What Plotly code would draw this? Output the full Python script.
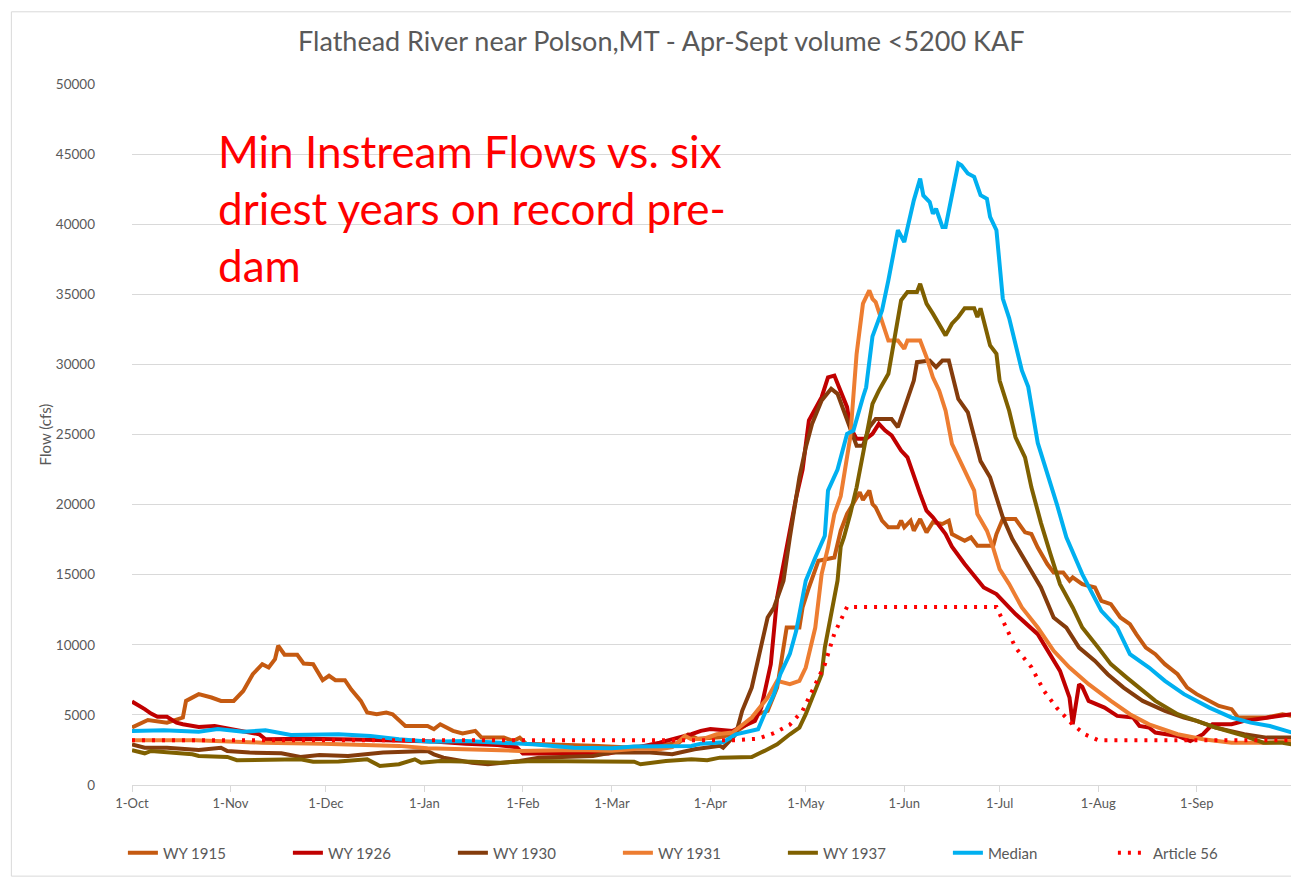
import pandas as pd
import plotly.graph_objects as go

# water year axis: day 0 = 1-Oct
base = pd.Timestamp("2018-10-01")

title = "Flathead River near Polson,MT - Apr-Sept volume <5200 KAF"
note = "Min Instream Flows vs. six<br>driest years on record pre-<br>dam"

# values (day of water year, cfs)
wy1915_days = [0, 5, 11, 16, 17, 21, 25, 28, 32, 35, 38, 41, 43, 45, 46, 48, 52, 54, 57, 60, 62, 64, 67, 69,
               72, 74, 77, 80, 82, 86, 93, 95, 97, 101, 104, 108, 110, 117, 120, 122, 124, 135, 145, 155,
               165, 172, 175, 178, 185, 189, 195, 197, 200, 203, 205, 206, 210, 211, 213, 216, 221, 223,
               225, 228, 229, 230, 232, 233, 234, 236, 238, 241, 242, 243, 245, 246, 248, 250, 252, 255,
               257, 258, 262, 264, 266, 271, 272, 274, 278, 281, 283, 285, 288, 290, 293, 295, 296, 299,
               303, 305, 308, 311, 314, 316, 319, 322, 325, 329, 332, 335, 339, 342, 346, 348, 357, 362, 365]
wy1915 = [4100, 4640, 4450, 4810, 6000, 6480, 6240, 6000, 6000, 6710, 7900, 8620, 8380, 8980, 9930, 9290,
          9290, 8670, 8620, 7480, 7790, 7480, 7480, 6800, 6000, 5170, 5050, 5170, 5050, 4210, 4210, 3980,
          4330, 3860, 3680, 3860, 3380, 3380, 3140, 3380, 2950, 2900, 2800, 2700, 2800, 3000, 3600, 3300,
          3400, 3620, 4570, 5050, 5290, 6950, 9800, 11230, 11230, 12660, 14090, 16000, 16230, 18140,
          19330, 20520, 20880, 20330, 21000, 20040, 19800, 18850, 18380, 18380, 18850, 18380, 18850,
          18140, 18970, 18020, 18740, 18620, 18850, 17900, 17420, 17660, 17070, 17070, 17900, 18970,
          18970, 18020, 17900, 16940, 15760, 15160, 15160, 14570, 14810, 14330, 14090, 13140, 12900,
          11950, 11470, 10760, 9800, 9330, 8620, 7900, 6950, 6480, 6000, 5640, 5410, 4810, 4810, 5050, 4930]

wy1926_days = [0, 2, 4, 6, 8, 11, 14, 16, 21, 26, 32, 40, 42, 55, 70, 85, 95, 105, 115, 121, 123, 150, 158,
               166, 176, 179, 182, 189, 196, 198, 201, 203, 205, 207, 209, 211, 213, 217, 219, 221, 223,
               225, 226, 228, 231, 233, 235, 237, 239, 242, 244, 246, 248, 250, 252, 256, 258, 262, 268,
               272, 278, 285, 289, 292, 295, 296, 298, 299, 301, 306, 310, 315, 317, 320, 322, 329, 333,
               337, 340, 346, 350, 357, 365]
wy1926 = [5950, 5710, 5410, 5090, 4860, 4860, 4450, 4330, 4140, 4210, 3980, 3620, 3260, 3300, 3250, 3200,
          3100, 2950, 2850, 2700, 2250, 2250, 2660, 3020, 3620, 3860, 4000, 3860, 4570, 5520, 8620, 13380,
          15760, 18140, 20520, 22500, 26000, 27660, 29080, 29200, 28140, 26950, 25520, 24690, 24690,
          25040, 25760, 25280, 24930, 23850, 23370, 21950, 20760, 19570, 19090, 17900, 17000, 15760,
          14090, 13620, 12190, 10760, 9330, 8140, 6230, 4330, 7190, 7000, 6000, 5520, 4930, 4810, 4210,
          4100, 3740, 3500, 3140, 3620, 4330, 4330, 4570, 4810, 5050]

wy1930_days = [0, 4, 11, 21, 28, 30, 37, 47, 53, 59, 68, 79, 93, 95, 98, 107, 112, 116, 122, 128, 137, 145,
               151, 163, 170, 177, 185, 186, 190, 192, 195, 198, 200, 202, 205, 207, 209, 210, 212, 214,
               217, 220, 222, 224, 226, 228, 230, 232, 234, 239, 241, 242, 244, 246, 247, 251, 253, 255,
               257, 258, 260, 263, 265, 267, 270, 272, 274, 277, 282, 286, 290, 294, 298, 303, 307, 312,
               318, 325, 331, 335, 341, 350, 357, 365]
wy1930 = [2900, 2660, 2660, 2500, 2660, 2430, 2310, 2260, 2000, 2140, 2070, 2310, 2430, 2190, 1950, 1590,
          1480, 1590, 1710, 1950, 2000, 2070, 2310, 2310, 2190, 2550, 2790, 2660, 3620, 5290, 6950, 9810,
          11950, 12660, 14570, 17660, 20520, 21950, 24080, 25760, 27420, 28260, 27900, 26700, 25520,
          24200, 24200, 25520, 26110, 26110, 25520, 26230, 27660, 28850, 30160, 30270, 29800, 30270,
          30270, 29330, 27540, 26580, 24800, 23100, 21950, 20400, 19090, 17540, 15640, 14090, 11950,
          11230, 9800, 8850, 7900, 6950, 6000, 5290, 4810, 4570, 4090, 3620, 3380, 3380]

wy1931_days = [0, 20, 41, 60, 84, 93, 116, 122, 140, 151, 160, 166, 170, 174, 176, 180, 184, 189, 195, 200,
               203, 205, 207, 210, 212, 215, 217, 219, 221, 223, 226, 228, 230, 232, 233, 234, 236, 238,
               241, 243, 244, 248, 250, 252, 254, 256, 258, 260, 263, 265, 266, 269, 271, 273, 276, 280,
               285, 290, 295, 301, 308, 314, 320, 329, 337, 346, 357, 365]
wy1931 = [3190, 3200, 3020, 2950, 2790, 2620, 2480, 2430, 2500, 2450, 2600, 2550, 2700, 3500, 3260, 3300,
          3620, 3740, 4810, 6230, 7430, 7310, 7190, 7430, 8380, 11230, 15040, 16940, 19330, 20600, 24800,
          30750, 34330, 35280, 34680, 34450, 33130, 31700, 31700, 31110, 31700, 31700, 30510, 29080,
          28130, 26700, 24330, 23370, 21950, 21000, 19330, 18140, 16900, 15400, 14330, 12660, 11230,
          9570, 8380, 7190, 6000, 5050, 4330, 3620, 3260, 3020, 3020, 3140]

wy1937_days = [0, 4, 6, 14, 19, 21, 30, 33, 42, 53, 57, 65, 74, 78, 84, 89, 91, 97, 107, 116, 126, 141, 158,
               160, 168, 176, 181, 185, 195, 199, 203, 207, 210, 212, 214, 217, 218, 220, 222, 223, 224,
               226, 228, 231, 233, 235, 238, 240, 242, 244, 247, 248, 250, 252, 254, 256, 258, 260, 262,
               265, 266, 267, 270, 272, 273, 276, 278, 281, 283, 286, 289, 292, 296, 299, 304, 308, 313,
               318, 322, 329, 335, 341, 350, 356, 362, 365]
wy1937 = [2480, 2260, 2430, 2310, 2190, 2070, 2000, 1770, 1770, 1830, 1660, 1670, 1830, 1360, 1480, 1830,
          1590, 1710, 1660, 1590, 1710, 1660, 1660, 1480, 1710, 1830, 1770, 1950, 2000, 2430, 2900, 3620,
          4090, 5050, 6230, 7900, 9800, 12190, 14570, 17000, 17660, 19330, 21230, 24800, 27180, 28130,
          29330, 31950, 34570, 35160, 35160, 35750, 34330, 33620, 32900, 32070, 32900, 33380, 34000,
          34000, 33380, 34000, 31350, 30750, 28850, 26700, 24800, 23370, 21230, 18700, 16470, 14330,
          12660, 11230, 9800, 8620, 7660, 6710, 6000, 5050, 4570, 4100, 3500, 3020, 3020, 2900]

median_days = [0, 10, 21, 27, 35, 42, 50, 65, 75, 84, 94, 105, 116, 126, 139, 151, 158, 168, 176, 179, 186,
               190, 197, 199, 202, 204, 207, 209, 212, 215, 218, 219, 222, 225, 227, 230, 231, 233, 236,
               238, 241, 243, 245, 246, 248, 249, 251, 252, 253, 255, 256, 260, 261, 263, 265, 267, 269,
               270, 272, 274, 276, 280, 282, 285, 291, 294, 299, 305, 310, 314, 320, 325, 331, 339, 346,
               352, 358, 365]
median = [3860, 3900, 3800, 4000, 3800, 3900, 3570, 3620, 3500, 3260, 3090, 3140, 3020, 2900, 2660, 2620,
          2740, 2780, 2790, 2950, 3050, 3620, 3980, 5050, 6480, 7900, 9350, 11000, 14570, 16230, 17780,
          21000, 22500, 25050, 25280, 27660, 28370, 32000, 33850, 36000, 39570, 38730, 40750, 41700,
          43250, 42050, 41580, 40750, 41100, 39800, 39800, 44330, 44200, 43620, 43380, 42070, 41820,
          40520, 39570, 34700, 33300, 29570, 28400, 24400, 20040, 17660, 15040, 12420, 11230, 9330,
          8380, 7430, 6480, 5520, 4810, 4450, 4210, 3740]

art56_days = [0, 190, 197, 202, 207, 211, 214, 218, 221, 225, 272, 275, 278, 283, 287, 291, 296, 300, 304, 365]
art56 = [3200, 3200, 3300, 3700, 4300, 5300, 6700, 8600, 10800, 12700, 12700, 11200, 9800, 8400, 6700,
         5500, 4300, 3600, 3200, 3200]

series = [
    ("WY 1915", wy1915_days, wy1915, "#C55A11", "solid"),
    ("WY 1926", wy1926_days, wy1926, "#C00000", "solid"),
    ("WY 1930", wy1930_days, wy1930, "#843C0C", "solid"),
    ("WY 1931", wy1931_days, wy1931, "#ED7D31", "solid"),
    ("WY 1937", wy1937_days, wy1937, "#7F6000", "solid"),
    ("Median", median_days, median, "#00B0F0", "solid"),
    ("Article 56", art56_days, art56, "#FF0000", "3px,7px"),
]

font = "Lato, 'Open Sans', sans-serif"
grey = "#595959"

fig = go.Figure()
for name, days, vals, color, dash in series:
    x = base + pd.to_timedelta(days, unit="D")
    fig.add_trace(go.Scatter(x=x, y=vals, name=name, mode="lines",
                             line=dict(color=color, width=4, dash=dash)))

month_starts = pd.date_range(base, periods=13, freq="MS")
tick_text = [d.strftime("1-%b") for d in month_starts[:-1]] + [""]

# the page adds an 8px body margin, so the figure is 8px smaller than the window
fig.update_layout(
    width=1291, height=869,
    paper_bgcolor="white", plot_bgcolor="white",
    margin=dict(l=124, r=7, t=76, b=92, autoexpand=False),
    font=dict(family=font, color=grey, size=14),
    title=dict(text=title, x=0.506, xanchor="center", y=0.961, yanchor="middle",
               font=dict(size=27, color=grey)),
    legend=dict(orientation="h", x=0.49, xanchor="center", y=-0.097, yanchor="middle",
                font=dict(size=15, color=grey), entrywidth=120, entrywidthmode="pixels"),
    showlegend=True,
)

fig.update_xaxes(range=[base, month_starts[-1]], tickvals=month_starts, ticktext=tick_text,
                 showgrid=False, showline=True, linecolor="#D9D9D9", linewidth=1,
                 ticks="outside", ticklen=6, tickcolor="#D9D9D9", tickfont=dict(size=13, color=grey))
fig.update_yaxes(range=[0, 50000], dtick=5000, tickformat="d", showgrid=True, gridcolor="#D9D9D9",
                 gridwidth=1, zeroline=False, ticks="", tickfont=dict(size=13.5, color=grey),
                 ticklabelstandoff=36,
                 title=dict(text="Flow (cfs)", font=dict(size=15, color=grey), standoff=0))

fig.add_annotation(text=note, xref="paper", yref="paper", x=0.072, y=0.944,
                   xanchor="left", yanchor="top", align="left", showarrow=False,
                   font=dict(size=44, color="#FF0000", family=font))

# thin frame round the chart, like the spreadsheet chart border
fig.add_shape(type="rect", xref="paper", yref="paper", x0=-0.104, x1=1.0034, y0=-0.13, y1=1.103,
              line=dict(color="#D9D9D9", width=1), fillcolor="rgba(0,0,0,0)", layer="below")

fig.write_html("out.html")
